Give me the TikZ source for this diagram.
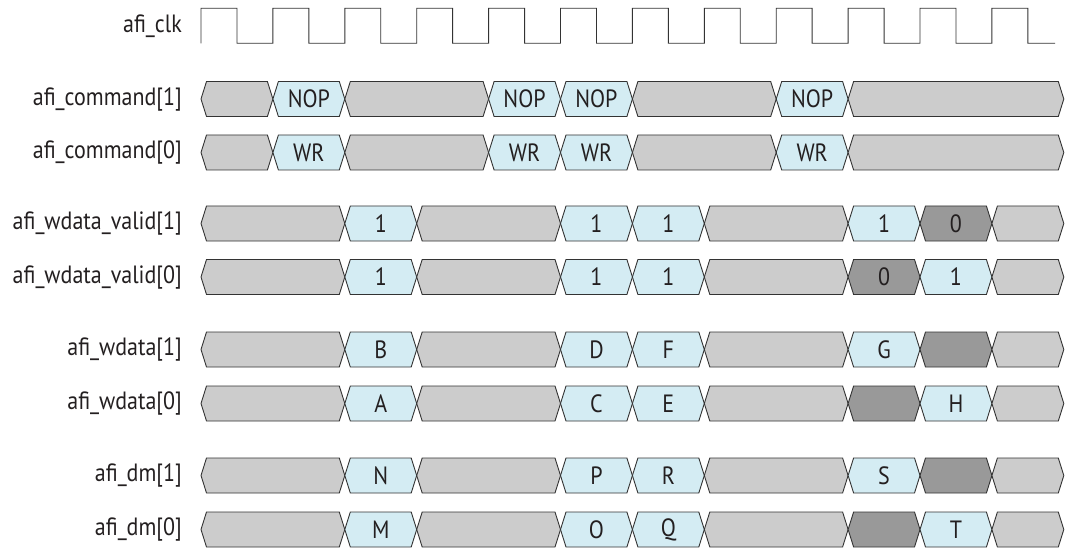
\documentclass[tikz,border=0pt]{standalone}
\usepackage{fontspec}
\setmainfont[FakeStretch=0.88]{PT Sans}
\definecolor{lblue}{HTML}{D4ECF3}
\definecolor{lgray}{HTML}{CCCCCC}
\definecolor{dgray}{HTML}{999999}
\definecolor{edge}{HTML}{333333}
\definecolor{ink}{HTML}{231F20}
\newcommand\busseg[6]{%
  \pgfmathsetmacro\xa{201+71.9*#2}%
  \pgfmathsetmacro\xb{201+71.9*#3}%
  \path[#5] (\xa,#4) -- ({\xa+5.5},{#4-17.5}) -- ({\xb-5.5},{#4-17.5}) -- (\xb,#4)
     -- ({\xb-5.5},{#4+17.5}) -- ({\xa+5.5},{#4+17.5}) -- cycle;
  \node[val] (#1) at ({(\xa+\xb)/2},#4) {#6};%
}
\begin{document}
\begin{tikzpicture}[x=1pt,y=-1pt,
  every node/.style={font=\fontsize{25}{28}\selectfont, text=ink, inner sep=0pt},
  val/.style={},
  sig/.style={anchor=east},
  g/.style={draw=edge, line width=0.9pt, fill=lgray, line join=miter},
  b/.style={draw=edge, line width=0.9pt, fill=lblue, line join=miter},
  d/.style={draw=edge, line width=0.9pt, fill=dgray, line join=miter},
  clk/.style={draw=edge, line width=0.9pt}]
\useasboundingbox (0,0) rectangle (1065,548);
% labels
\node[sig] (lclk) at (182,26) {afi\_clk};
\node[sig] (lc1) at (182,99) {afi\_command[1]};
\node[sig] (lc0) at (182,152.5) {afi\_command[0]};
\node[sig] (lv1) at (182,223.5) {afi\_wdata\_valid[1]};
\node[sig] (lv0) at (182,277) {afi\_wdata\_valid[0]};
\node[sig] (lw1) at (182,349.5) {afi\_wdata[1]};
\node[sig] (lw0) at (182,403.5) {afi\_wdata[0]};
\node[sig] (ld1) at (182,475.5) {afi\_dm[1]};
\node[sig] (ld0) at (182,529.5) {afi\_dm[0]};
% clock
\draw[clk] (201,43.3)
  \foreach \k in {0,...,10}{ -- ({201+71.9*\k},8.3) -- ({236.95+71.9*\k},8.3) -- ({236.95+71.9*\k},43.3) -- ({272.9+71.9*\k},43.3) }
  -- (991.9,8.3) -- (1027.9,8.3) -- (1027.9,43.3) -- (1055,43.3);
% command[1]
\busseg{c1a}{0}{1}{99}{g}{}
\busseg{c1b}{1}{2}{99}{b}{NOP}
\busseg{c1c}{2}{4}{99}{g}{}
\busseg{c1d}{4}{5}{99}{b}{NOP}
\busseg{c1e}{5}{6}{99}{b}{NOP}
\busseg{c1f}{6}{8}{99}{g}{}
\busseg{c1g}{8}{9}{99}{b}{NOP}
\busseg{c1h}{9}{12}{99}{g}{}
% command[0]
\busseg{c0a}{0}{1}{152.5}{g}{}
\busseg{c0b}{1}{2}{152.5}{b}{WR}
\busseg{c0c}{2}{4}{152.5}{g}{}
\busseg{c0d}{4}{5}{152.5}{b}{WR}
\busseg{c0e}{5}{6}{152.5}{b}{WR}
\busseg{c0f}{6}{8}{152.5}{g}{}
\busseg{c0g}{8}{9}{152.5}{b}{WR}
\busseg{c0h}{9}{12}{152.5}{g}{}
% wdata_valid[1]
\busseg{v1a}{0}{2}{223.5}{g}{}
\busseg{v1b}{2}{3}{223.5}{b}{1}
\busseg{v1c}{3}{5}{223.5}{g}{}
\busseg{v1d}{5}{6}{223.5}{b}{1}
\busseg{v1e}{6}{7}{223.5}{b}{1}
\busseg{v1f}{7}{9}{223.5}{g}{}
\busseg{v1g}{9}{10}{223.5}{b}{1}
\busseg{v1h}{10}{11}{223.5}{d}{0}
\busseg{v1i}{11}{12}{223.5}{g}{}
% wdata_valid[0]
\busseg{v0a}{0}{2}{277}{g}{}
\busseg{v0b}{2}{3}{277}{b}{1}
\busseg{v0c}{3}{5}{277}{g}{}
\busseg{v0d}{5}{6}{277}{b}{1}
\busseg{v0e}{6}{7}{277}{b}{1}
\busseg{v0f}{7}{9}{277}{g}{}
\busseg{v0g}{9}{10}{277}{d}{0}
\busseg{v0h}{10}{11}{277}{b}{1}
\busseg{v0i}{11}{12}{277}{g}{}
% wdata[1]
\busseg{w1a}{0}{2}{349.5}{g}{}
\busseg{w1b}{2}{3}{349.5}{b}{B}
\busseg{w1c}{3}{5}{349.5}{g}{}
\busseg{w1d}{5}{6}{349.5}{b}{D}
\busseg{w1e}{6}{7}{349.5}{b}{F}
\busseg{w1f}{7}{9}{349.5}{g}{}
\busseg{w1g}{9}{10}{349.5}{b}{G}
\busseg{w1h}{10}{11}{349.5}{d}{}
\busseg{w1i}{11}{12}{349.5}{g}{}
% wdata[0]
\busseg{w0a}{0}{2}{403.5}{g}{}
\busseg{w0b}{2}{3}{403.5}{b}{A}
\busseg{w0c}{3}{5}{403.5}{g}{}
\busseg{w0d}{5}{6}{403.5}{b}{C}
\busseg{w0e}{6}{7}{403.5}{b}{E}
\busseg{w0f}{7}{9}{403.5}{g}{}
\busseg{w0g}{9}{10}{403.5}{d}{}
\busseg{w0h}{10}{11}{403.5}{b}{H}
\busseg{w0i}{11}{12}{403.5}{g}{}
% dm[1]
\busseg{d1a}{0}{2}{475.5}{g}{}
\busseg{d1b}{2}{3}{475.5}{b}{N}
\busseg{d1c}{3}{5}{475.5}{g}{}
\busseg{d1d}{5}{6}{475.5}{b}{P}
\busseg{d1e}{6}{7}{475.5}{b}{R}
\busseg{d1f}{7}{9}{475.5}{g}{}
\busseg{d1g}{9}{10}{475.5}{b}{S}
\busseg{d1h}{10}{11}{475.5}{d}{}
\busseg{d1i}{11}{12}{475.5}{g}{}
% dm[0]
\busseg{d0a}{0}{2}{529.5}{g}{}
\busseg{d0b}{2}{3}{529.5}{b}{M}
\busseg{d0c}{3}{5}{529.5}{g}{}
\busseg{d0d}{5}{6}{529.5}{b}{O}
\busseg{d0e}{6}{7}{529.5}{b}{Q}
\busseg{d0f}{7}{9}{529.5}{g}{}
\busseg{d0g}{9}{10}{529.5}{d}{}
\busseg{d0h}{10}{11}{529.5}{b}{T}
\busseg{d0i}{11}{12}{529.5}{g}{}
\end{tikzpicture}
\end{document}
